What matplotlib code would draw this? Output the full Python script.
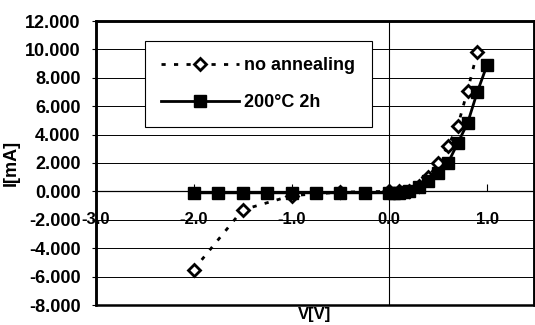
import matplotlib
matplotlib.use("Agg")
import matplotlib.pyplot as plt
from matplotlib.patches import Rectangle

# Data
v_no = [-2.0, -1.5, -1.0, -0.5, 0.0, 0.1, 0.2, 0.3, 0.4, 0.5, 0.6, 0.7, 0.8, 0.9]
i_no = [-5.5, -1.3, -0.3, -0.05, 0.0, 0.0, 0.05, 0.4, 1.0, 2.0, 3.2, 4.6, 7.1, 9.8]

v_200 = [-2.0, -1.75, -1.5, -1.25, -1.0, -0.75, -0.5, -0.25, 0.0, 0.05, 0.1,
         0.15, 0.2, 0.3, 0.4, 0.5, 0.6, 0.7, 0.8, 0.9, 1.0]
i_200 = [-0.1, -0.1, -0.1, -0.1, -0.1, -0.1, -0.1, -0.1, -0.1, -0.1, -0.1,
         -0.05, 0.0, 0.3, 0.7, 1.3, 2.0, 3.4, 4.8, 7.0, 8.9]

x_ticks = [-3.0, -2.0, -1.0, 0.0, 1.0]
y_ticks = [-8, -6, -4, -2, 0, 2, 4, 6, 8, 10, 12]
labels = ["no annealing", "200\u00b0C 2h"]

plt.rcParams['font.family'] = ['Liberation Sans', 'DejaVu Sans']
plt.rcParams['font.weight'] = 'bold'

fig = plt.figure(figsize=(5.35, 3.25), dpi=100)
ax = fig.add_axes([96/535, 1-305/325, 438/535, 284/325])

ax.set_xlim(-3.0, 1.48)
ax.set_ylim(-8, 12)

# grid lines
for y in y_ticks[1:-1]:
    ax.axhline(y, color='black', lw=0.7, zorder=1)
ax.axvline(0, color='black', lw=0.8, zorder=1)

ax.plot(v_no, i_no, linestyle=(0, (1.5, 3)), color='black', lw=2,
        marker='D', markersize=6.5, markerfacecolor='white',
        markeredgecolor='black', markeredgewidth=2, label=labels[0], zorder=3)
ax.plot(v_200, i_200, linestyle='-', color='black', lw=2,
        marker='s', markersize=9, markerfacecolor='black',
        markeredgecolor='black', label=labels[1], zorder=4)

# frame
for s in ['top', 'right', 'left']:
    ax.spines[s].set_linewidth(1.8)
ax.spines['bottom'].set_position(('data', 0))
ax.spines['bottom'].set_linewidth(0.9)
ax.add_patch(Rectangle((0, 0), 1, 1, transform=ax.transAxes, fill=False,
                       lw=1.8, edgecolor='black', clip_on=False, zorder=6))

ax.set_xticks(x_ticks)
ax.set_xticklabels(["%.1f" % t for t in x_ticks])
ax.set_yticks(y_ticks)
ax.set_yticklabels(["%.3f" % t for t in y_ticks])
ax.tick_params(axis='x', direction='in', length=5, pad=15, labelsize=12)
ax.tick_params(axis='y', direction='out', length=3, pad=8, labelsize=13)
for lab in ax.get_xticklabels() + ax.get_yticklabels():
    lab.set_fontweight('bold')

ax.set_xlabel("V[V]", fontsize=12, fontweight='bold')
ax.xaxis.set_label_coords(0.5, -0.008)
ax.set_ylabel("I[mA]", fontsize=13, fontweight='bold')
ax.yaxis.set_label_coords(-0.175, 0.5)

leg = ax.legend(loc='upper left', bbox_to_anchor=(0.112, 0.93),
                borderaxespad=0, fontsize=13, frameon=True, fancybox=False,
                edgecolor='black', framealpha=1, handlelength=4.3,
                handletextpad=0.3, borderpad=0.9, labelspacing=1.1,
                numpoints=1, prop={'weight': 'bold', 'size': 13})
leg.get_frame().set_linewidth(0.8)
leg.set_zorder(5)

fig.savefig("out.png", dpi=100)
